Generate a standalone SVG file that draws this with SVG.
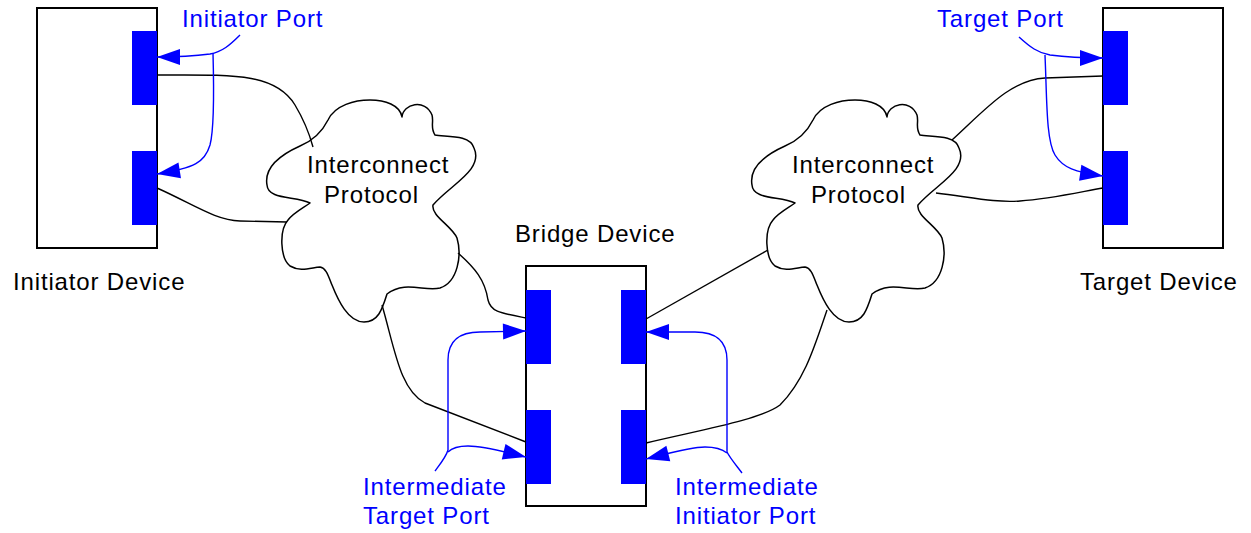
<svg xmlns="http://www.w3.org/2000/svg" width="1251" height="533" viewBox="0 0 1251 533">
  <style>
    .device { fill: #ffffff; stroke: #000000; stroke-width: 2; }
    .port { fill: #0000ff; stroke: none; }
    .cloud { fill: #ffffff; stroke: #000000; stroke-width: 1.5; stroke-linejoin: round; }
    .link { fill: none; stroke: #000000; stroke-width: 1.4; }
    .arrow { fill: none; stroke: #0000ff; stroke-width: 1.4; marker-end: url(#head); }
    text { font-family: "Liberation Sans", Arial, sans-serif; font-size: 24px; letter-spacing: 0.85px; }
    .label { fill: #000000; }
    .blue { fill: #0000ff; }
  </style>
  <defs>
    <marker id="head" markerUnits="userSpaceOnUse" markerWidth="24" markerHeight="16" refX="23" refY="8" orient="auto" overflow="visible">
      <path d="M0,0 L23,8 L0,16 Z" fill="#0000ff"/>
    </marker>
    <!-- cloud outline, reused for both protocol clouds -->
    <path id="cloudShape" d="M310,203
      C295,196 268,200 267,185
      C264,168 280,155 300,146
      C312,141 322,132 328,120
      C335,105 355,100 370,100
      C385,100 400,105 402,117
      C403,104 425,98 432,115
      C434,122 430,128 435,135
      C445,137 470,134 474,148
      C484,170 450,185 433,205
      C431,216 452,226 457,238
      C462,255 458,282 440,288
      C425,292 405,280 387,294
      C382,310 378,322 364,322
      C348,322 338,300 332,285
      C328,275 326,268 320,267
      C310,268 300,272 290,266
      C280,258 279,230 288,220
      C293,213 303,208 310,203 Z"/>
  </defs>

  <!-- clouds (drawn first so links sit over them) -->
  <g id="cloud-left">
    <use href="#cloudShape" class="cloud"/>
    <text class="label" x="307" y="173">Interconnect</text>
    <text class="label" x="324" y="203">Protocol</text>
  </g>
  <g id="cloud-right">
    <use href="#cloudShape" class="cloud" transform="translate(485,0)"/>
    <text class="label" x="792" y="173">Interconnect</text>
    <text class="label" x="811" y="203">Protocol</text>
  </g>

  <!-- devices -->
  <g id="initiator-device">
    <rect class="device" x="37" y="8" width="120" height="240"/>
    <rect class="port" x="132" y="31" width="25" height="74"/>
    <rect class="port" x="132" y="151" width="25" height="74"/>
    <text class="label" x="13" y="290">Initiator Device</text>
  </g>
  <g id="target-device">
    <rect class="device" x="1103" y="8" width="120" height="240"/>
    <rect class="port" x="1103" y="31" width="25" height="74"/>
    <rect class="port" x="1103" y="151" width="25" height="74"/>
    <text class="label" x="1080" y="290">Target Device</text>
  </g>
  <g id="bridge-device">
    <rect class="device" x="526" y="266" width="120" height="240"/>
    <rect class="port" x="526" y="290" width="25" height="74"/>
    <rect class="port" x="526" y="410" width="25" height="74"/>
    <rect class="port" x="621" y="290" width="25" height="74"/>
    <rect class="port" x="621" y="410" width="25" height="74"/>
    <text class="label" x="515" y="242">Bridge Device</text>
  </g>

  <!-- protocol links -->
  <g id="links">
    <path class="link" d="M157,75 C230,75 275,72 295,105 C304,120 310,136 313,147"/>
    <path class="link" d="M157,188 C195,205 215,220 240,221 L287,222"/>
    <path class="link" d="M458,253 C475,268 485,280 488,300 C491,312 500,313 526,318"/>
    <path class="link" d="M382,305 C395,350 400,390 425,403 L526,442"/>
    <path class="link" d="M646,319 L768,250"/>
    <path class="link" d="M827,310 C815,345 805,380 780,405 C760,420 700,430 646,443"/>
    <path class="link" d="M952,140 C985,110 1010,80 1045,78 L1103,76"/>
    <path class="link" d="M936,193 C970,197 995,203 1020,201 C1050,199 1080,192 1103,188"/>
  </g>

  <!-- port callouts -->
  <g id="callouts">
    <path class="arrow" d="M240,35 C230,45 222,52 210,54 C195,56 180,57 157,57"/>
    <path class="arrow" d="M213,53 C214,90 214,130 210,145 C205,162 195,168 157,174"/>
    <path class="arrow" d="M1019,37 C1030,47 1038,53 1050,55 C1065,57 1080,58 1103,58"/>
    <path class="arrow" d="M1045,55 C1047,100 1046,140 1055,155 C1063,168 1075,172 1103,176"/>
    <path class="arrow" d="M435,471 C441,463 446,457 448,450 L448,360 C448,340 460,332 480,332 L526,331"/>
    <path class="arrow" d="M448,452 C452,448 458,446 468,446 C485,446 505,452 526,457"/>
    <path class="arrow" d="M742,473 C736,465 730,458 727,452 L727,360 C727,340 715,332 695,332 L646,332"/>
    <path class="arrow" d="M727,453 C722,449 715,447 705,447 C690,447 670,453 646,459"/>
  </g>

  <!-- callout labels -->
  <g id="callout-labels">
    <text class="blue" x="182" y="27">Initiator Port</text>
    <text class="blue" x="937" y="27">Target Port</text>
    <text class="blue" x="363" y="495">Intermediate</text>
    <text class="blue" x="363" y="524">Target Port</text>
    <text class="blue" x="675" y="495">Intermediate</text>
    <text class="blue" x="675" y="524">Initiator Port</text>
  </g>
</svg>
